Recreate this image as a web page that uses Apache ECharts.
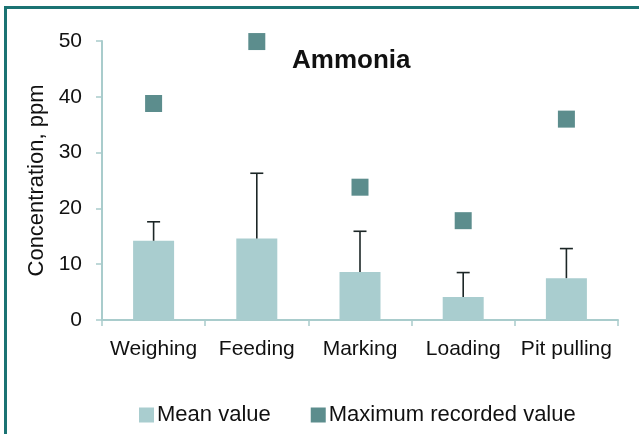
<!DOCTYPE html>
<html><head><meta charset="utf-8">
<script src="https://cdn.jsdelivr.net/npm/echarts@6/dist/echarts.min.js"></script>
<style>html,body{margin:0;padding:0;background:#fff}#c{width:639px;height:434px}</style>
</head><body><div id="c"></div>
<script>
const categories = ['Weighing', 'Feeding', 'Marking', 'Loading', 'Pit pulling'];
const meanValues = [14.2, 14.6, 8.6, 4.1, 7.5];
const errorTops = [17.6, 26.3, 15.9, 8.5, 12.8];
const maxValues = [38.8, 49.9, 23.8, 17.8, 36.0];
const yTicks = [0, 10, 20, 30, 40, 50];

const FONT = '"Liberation Sans", Arial, sans-serif';
const chart = echarts.init(document.getElementById('c'));
chart.setOption({
  animation: false,
  backgroundColor: '#fff',
  textStyle: { fontFamily: FONT },
  graphic: [
    { type: 'rect', shape: { x: 4, y: 6, width: 640, height: 3 }, style: { fill: '#1b7373' }, silent: true },
    { type: 'rect', shape: { x: 4, y: 6, width: 3, height: 440 }, style: { fill: '#1b7373' }, silent: true }
  ],
  title: {
    text: 'Ammonia', left: 287, top: 43,
    textStyle: { fontFamily: FONT, fontSize: 26, fontWeight: 'bold', color: '#111' }
  },
  legend: {
    data: [{ name: 'Mean value', icon: 'rect' }, { name: 'Maximum recorded value', icon: 'rect' }],
    left: 134, top: 399, itemWidth: 15, itemHeight: 15, itemGap: 40,
    textStyle: { fontFamily: FONT, fontSize: 22, color: '#111', padding: [0, 0, 0, -2] }
  },
  grid: { left: 102, right: 21, top: 41, bottom: 114, containLabel: false },
  xAxis: {
    type: 'category', data: categories,
    axisLine: { lineStyle: { color: '#a9cccc', width: 2 } },
    axisTick: { show: true, length: 6, lineStyle: { color: '#a9cccc', width: 1.5 } },
    axisLabel: { fontFamily: FONT, fontSize: 21, color: '#111', margin: 19, interval: 0, hideOverlap: false }
  },
  yAxis: {
    type: 'value', min: 0, max: 50, interval: 10,
    name: 'Concentration, ppm', nameLocation: 'middle', nameGap: 50, nameRotate: 90,
    nameTextStyle: { fontFamily: FONT, fontSize: 22, color: '#111' },
    axisLine: { show: true, lineStyle: { color: '#a9cccc', width: 2 } },
    axisTick: { show: true, length: 6, lineStyle: { color: '#a9cccc', width: 1.5 } },
    splitLine: { show: false },
    axisLabel: { fontFamily: FONT, fontSize: 21, color: '#111', margin: 20,
      formatter: v => yTicks.includes(v) ? String(v) : '' }
  },
  series: [
    {
      name: 'Mean value', type: 'bar', data: meanValues, barWidth: 41,
      itemStyle: { color: '#a9cdcf' }, z: 2
    },
    {
      name: 'errors', type: 'custom', z: 3,
      data: meanValues.map((m, i) => [i, m, errorTops[i]]),
      renderItem: function (params, api) {
        const base = api.coord([api.value(0), api.value(1)]);
        const top = api.coord([api.value(0), api.value(2)]);
        const half = 6.5;
        return {
          type: 'group',
          children: [
            { type: 'line', shape: { x1: base[0], y1: base[1], x2: top[0], y2: top[1] }, style: { stroke: '#1c2626', lineWidth: 1.6 } },
            { type: 'line', shape: { x1: top[0] - half, y1: top[1], x2: top[0] + half, y2: top[1] }, style: { stroke: '#1c2626', lineWidth: 1.6 } }
          ]
        };
      }
    },
    {
      name: 'Maximum recorded value', type: 'scatter', data: maxValues,
      symbol: 'rect', symbolSize: 17,
      itemStyle: { color: '#5c8d8d', opacity: 1 }, z: 4
    }
  ]
});
</script></body></html>
